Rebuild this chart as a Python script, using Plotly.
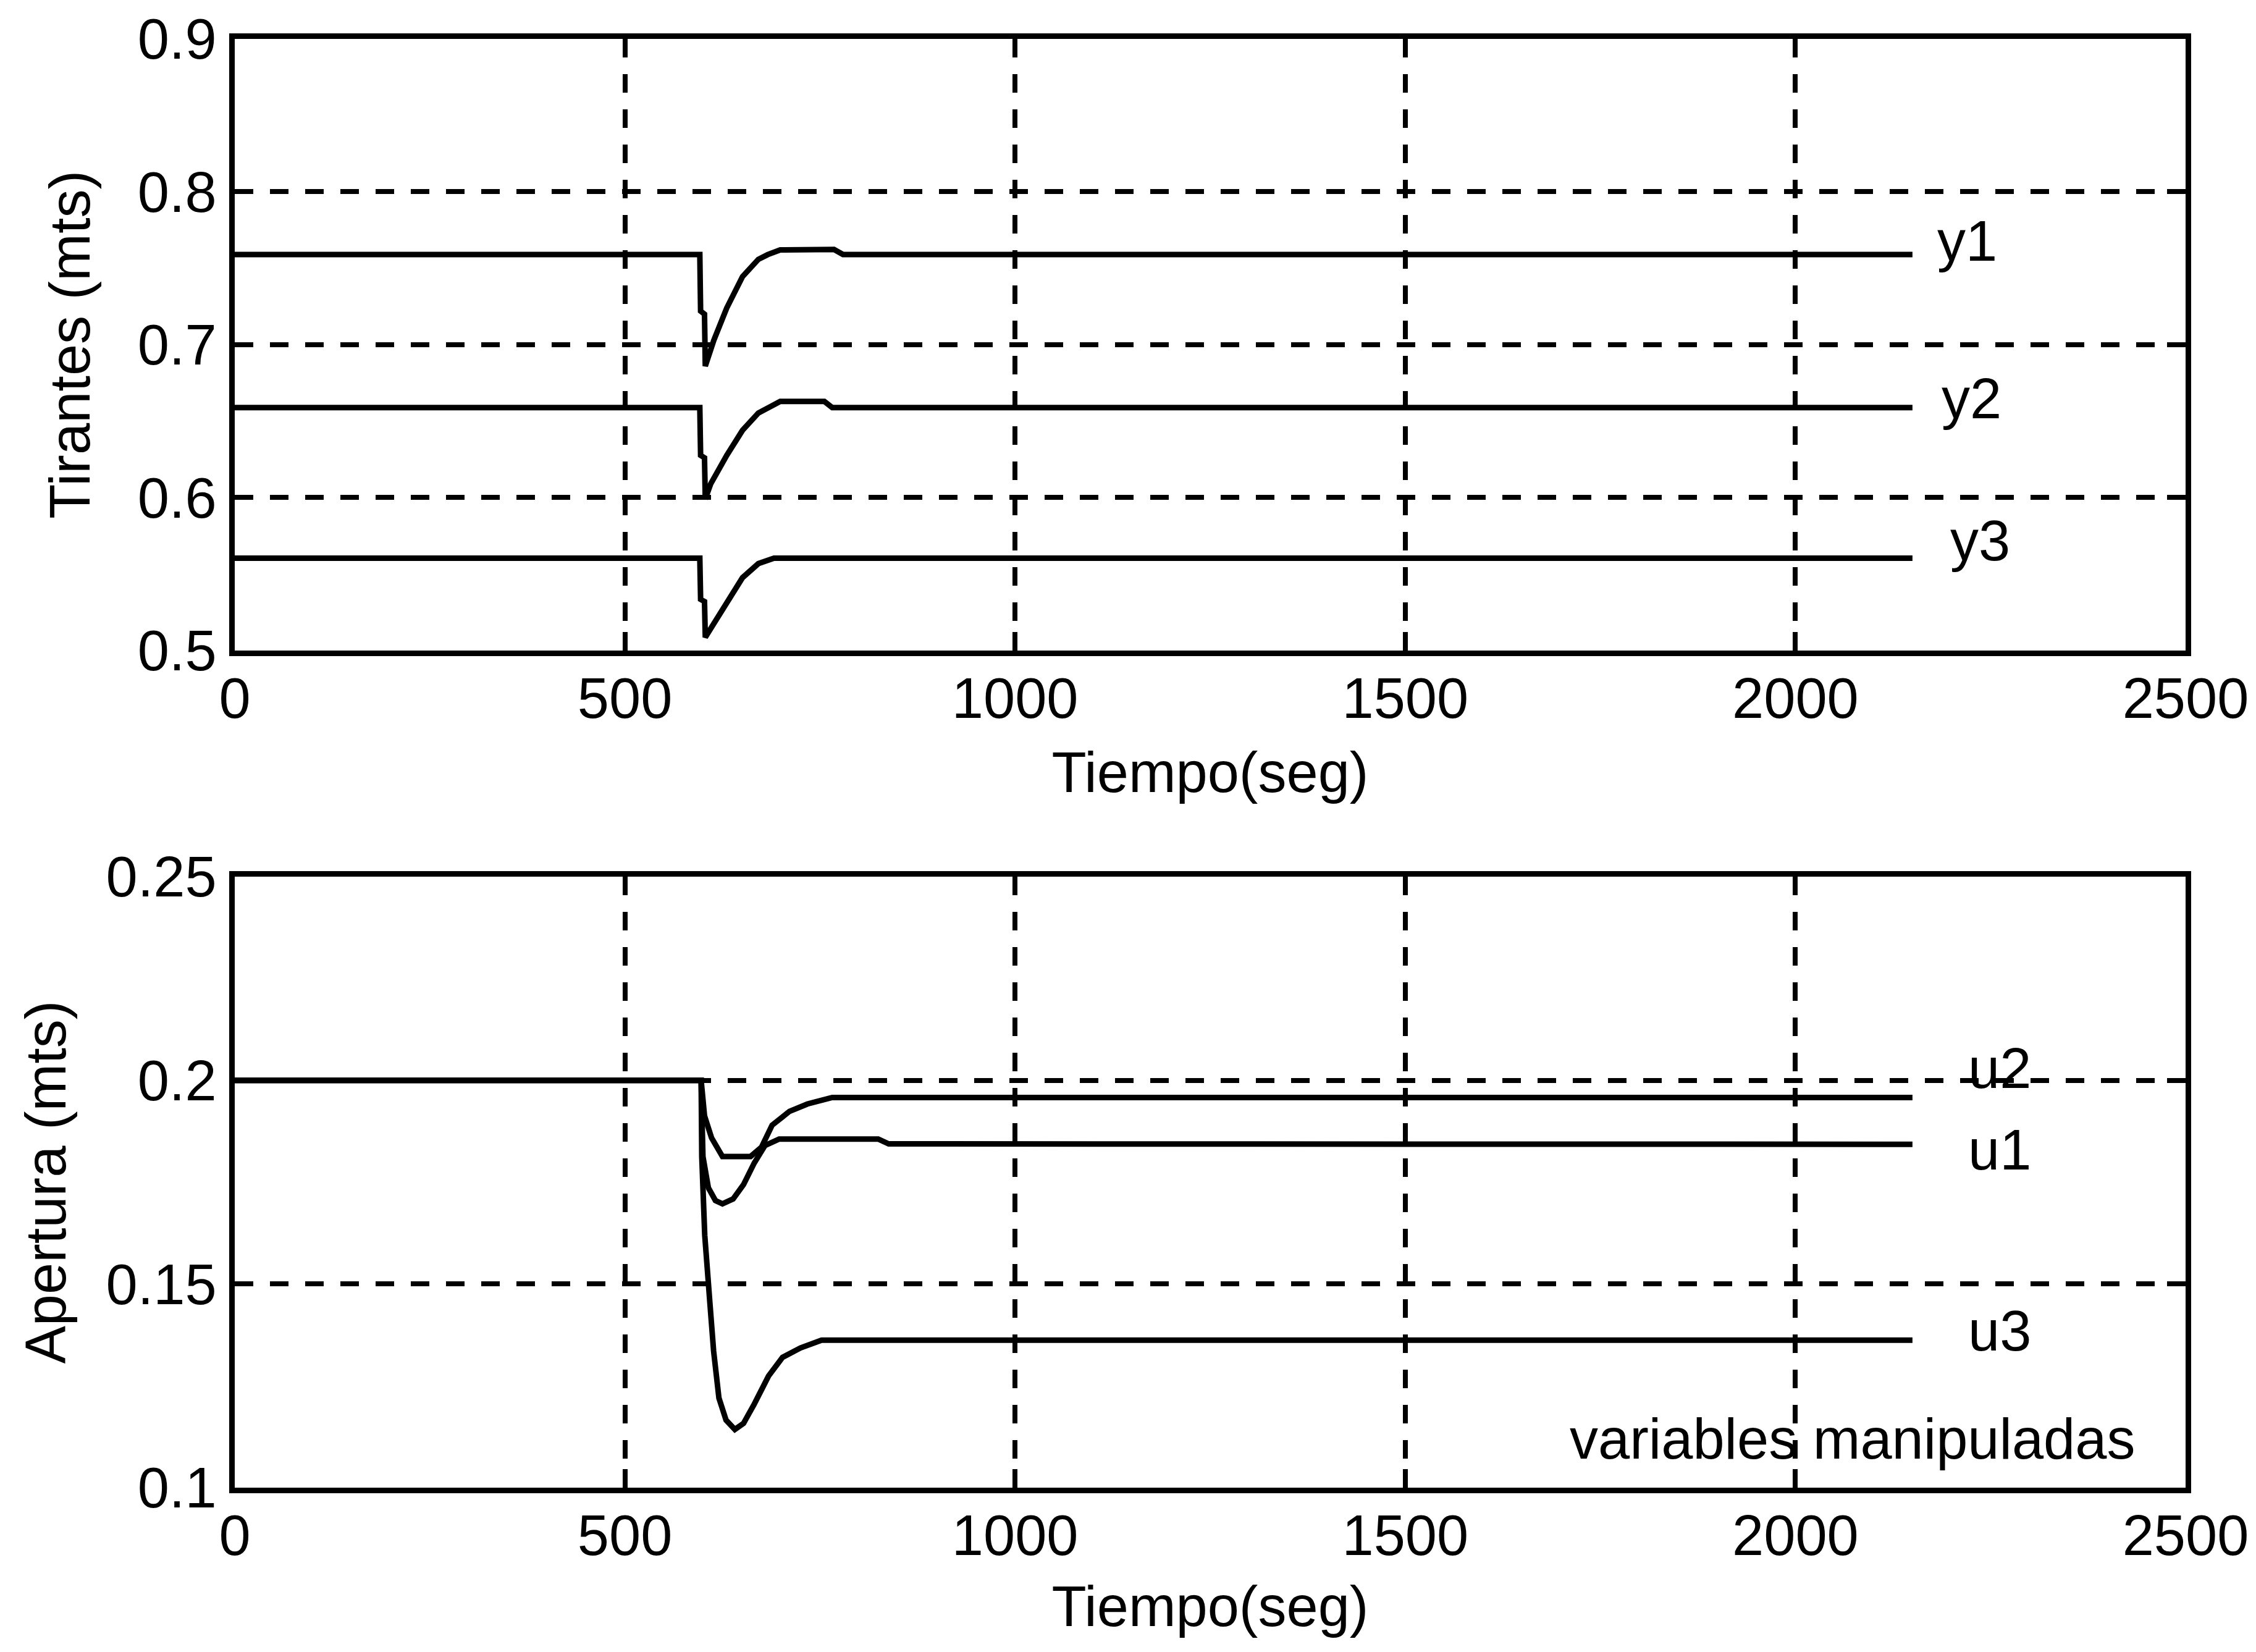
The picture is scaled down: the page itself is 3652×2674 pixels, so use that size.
import plotly.graph_objects as go

# ---------------- data ----------------
t_y1 = [0, 596, 597, 602, 603, 614, 630.5, 650.7, 671, 683, 699, 768, 779.5, 2150]
y1 = [0.759, 0.759, 0.722, 0.720, 0.686, 0.703, 0.724, 0.7445, 0.7558, 0.7589, 0.762, 0.7623, 0.759, 0.759]

t_y2 = [0, 596, 597, 602, 603, 610, 630.5, 650.7, 671, 691, 699, 755.6, 765.7, 2150]
y2 = [0.6588, 0.6588, 0.6276, 0.626, 0.599, 0.609, 0.6276, 0.644, 0.6553, 0.6614, 0.6629, 0.6629, 0.6588, 0.6588]

t_y3 = [0, 596, 597, 602, 603, 618, 630.5, 650.7, 671, 691, 2150]
y3 = [0.5603, 0.5603, 0.5334, 0.532, 0.5086, 0.521, 0.5313, 0.5476, 0.5568, 0.5603, 0.5603]

t_u1 = [0, 597.7, 600, 607, 616, 625, 638.7, 652, 665.7, 679.5, 697.7, 824.6, 838, 2150]
u1 = [0.2, 0.2, 0.1813, 0.1736, 0.1705, 0.1697, 0.1709, 0.1744, 0.1797, 0.184, 0.1856, 0.1856, 0.1844, 0.1843]

t_u2 = [0, 597.7, 602, 611, 625, 661, 675, 688.6, 711, 733.8, 765.7, 2150]
u2 = [0.2, 0.2, 0.1913, 0.1859, 0.1813, 0.1813, 0.1836, 0.189, 0.1924, 0.1942, 0.1958, 0.1958]

t_u3 = [0, 597.7, 598.5, 602.3, 609, 613.7, 620.5, 629.6, 640.9, 652, 665.7, 684, 702, 725, 752, 2150]
u3 = [0.2, 0.2, 0.1813, 0.162, 0.1451, 0.1335, 0.122, 0.1166, 0.1143, 0.1158, 0.1205, 0.1274, 0.132, 0.1343, 0.1362, 0.1362]

x_ticks = [0, 500, 1000, 1500, 2000, 2500]
y_top_ticks = [0.5, 0.6, 0.7, 0.8, 0.9]
y_top_labels = ["0.5", "0.6", "0.7", "0.8", "0.9"]
y_bot_ticks = [0.1, 0.15, 0.2, 0.25]
y_bot_labels = ["0.1", "0.15", "0.2", "0.25"]

top_labels = ["y1", "y2", "y3"]
top_label_x = [2180, 2186, 2197]
top_label_y = [0.768, 0.665, 0.572]
bot_labels = ["u2", "u1", "u3"]
bot_label_x = [2220, 2220, 2220]
bot_label_y = [0.203, 0.183, 0.1385]
note_text = "variables manipuladas"

# ---------------- figure ----------------
FONT = "Liberation Sans, Arial, sans-serif"
FS = 92
LW = 9

fig = go.Figure()
for tx, yy in [(t_y1, y1), (t_y2, y2), (t_y3, y3)]:
    fig.add_trace(go.Scatter(x=tx, y=yy, mode="lines", line=dict(color="black", width=LW),
                             xaxis="x", yaxis="y", showlegend=False, hoverinfo="skip"))
for tx, yy in [(t_u1, u1), (t_u2, u2), (t_u3, u3)]:
    fig.add_trace(go.Scatter(x=tx, y=yy, mode="lines", line=dict(color="black", width=LW),
                             xaxis="x2", yaxis="y2", showlegend=False, hoverinfo="skip"))

axis_common = dict(
    showline=True, linecolor="black", linewidth=9, mirror="ticks",
    ticks="inside", ticklen=30, tickwidth=8, tickcolor="black",
    showgrid=True, gridcolor="black", gridwidth=8, griddash="30px,27px",
    zeroline=False,
    tickfont=dict(family=FONT, size=FS, color="black"),
)

fig.update_layout(
    width=3652, height=2674, autosize=False,
    margin=dict(l=380, r=110, t=51, b=266),
    paper_bgcolor="white", plot_bgcolor="white",
    font=dict(family=FONT, size=FS, color="black"),
    xaxis=dict(domain=[0, 1], anchor="y", range=[0, 2500], tickvals=x_ticks,
               ticktext=[str(v) for v in x_ticks], ticklabelstandoff=-10,
               title=dict(text="Tiempo(seg)", font=dict(family=FONT, size=FS), standoff=41),
               **axis_common),
    yaxis=dict(domain=[0.5779, 1], anchor="x", range=[0.5, 0.9], tickvals=y_top_ticks,
               ticktext=y_top_labels, ticklabelstandoff=2,
               title=dict(text="Tirantes (mts)", font=dict(family=FONT, size=FS), standoff=50),
               **axis_common),
    xaxis2=dict(domain=[0, 1], anchor="y2", range=[0, 2500], tickvals=x_ticks,
                ticktext=[str(v) for v in x_ticks], ticklabelstandoff=-10,
                title=dict(text="Tiempo(seg)", font=dict(family=FONT, size=FS), standoff=36),
                **axis_common),
    yaxis2=dict(domain=[0, 0.4217], anchor="x2", range=[0.1, 0.25], tickvals=y_bot_ticks,
                ticktext=y_bot_labels, ticklabelstandoff=2,
                title=dict(text="Apertura (mts)", font=dict(family=FONT, size=FS), standoff=38),
                **axis_common),
)

ann = []
for txt, ax_, ay_ in zip(top_labels, top_label_x, top_label_y):
    ann.append(dict(text=txt, x=ax_, y=ay_, xref="x", yref="y", xanchor="left", yanchor="middle",
                    showarrow=False, font=dict(family=FONT, size=FS, color="black")))
for txt, ax_, ay_ in zip(bot_labels, bot_label_x, bot_label_y):
    ann.append(dict(text=txt, x=ax_, y=ay_, xref="x2", yref="y2", xanchor="left", yanchor="middle",
                    showarrow=False, font=dict(family=FONT, size=FS, color="black")))
ann.append(dict(text=note_text, x=2437, y=0.112, xref="x2", yref="y2", xanchor="right", yanchor="middle",
                showarrow=False, font=dict(family=FONT, size=FS, color="black")))
fig.update_layout(annotations=ann)

fig.write_html("out.html")
